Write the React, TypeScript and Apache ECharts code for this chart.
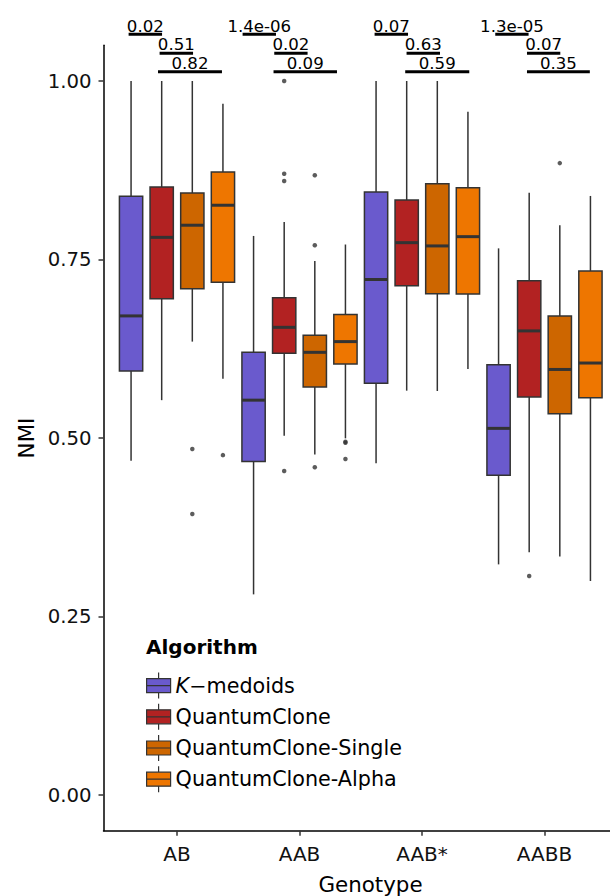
import React, { useEffect, useRef } from 'react';
import * as echarts from 'echarts';

const FONT = '"DejaVu Sans", Verdana, sans-serif';

const genotypes = ['AB', 'AAB', 'AAB*', 'AABB'];
const algorithms = ['K\u2212medoids', 'QuantumClone', 'QuantumClone-Single', 'QuantumClone-Alpha'];
const algorithmColors = ['#6A5ACD', '#B22222', '#CD6600', '#EE7600'];
const dodgeOffsets = [-0.375, -0.125, 0.125, 0.375];
const boxWidth = 0.19;

// [lower whisker, Q1, median, Q3, upper whisker], one row per genotype
const kmedoidsStats = [
  [0.468, 0.594, 0.671, 0.8385, 1.0],
  [0.281, 0.467, 0.553, 0.62, 0.783],
  [0.4645, 0.5766, 0.722, 0.8445, 1.0],
  [0.323, 0.448, 0.5135, 0.6027, 0.7656],
];
const quantumCloneStats = [
  [0.553, 0.695, 0.781, 0.8515, 1.0],
  [0.503, 0.6186, 0.655, 0.6966, 0.8025],
  [0.5663, 0.7134, 0.7736, 0.8333, 1.0],
  [0.34, 0.5574, 0.65, 0.7204, 0.8436],
];
const singleStats = [
  [0.635, 0.709, 0.798, 0.843, 1.0],
  [0.477, 0.5714, 0.62, 0.644, 0.748],
  [0.5658, 0.702, 0.769, 0.856, 1.0],
  [0.334, 0.534, 0.596, 0.671, 0.798],
];
const alphaStats = [
  [0.583, 0.718, 0.826, 0.8725, 0.968],
  [0.4995, 0.6036, 0.635, 0.673, 0.771],
  [0.5966, 0.7017, 0.782, 0.8506, 0.957],
  [0.2997, 0.5565, 0.605, 0.734, 0.839],
];

// outliers, one list per genotype
const kmedoidsOutliers = [[], [], [], []];
const quantumCloneOutliers = [[], [1.0, 0.87, 0.86, 0.4538], [], [0.3067]];
const singleOutliers = [[0.4846, 0.3935], [0.868, 0.77, 0.459], [], [0.885]];
const alphaOutliers = [[0.476], [0.4948, 0.4934, 0.4706], [], []];

const allStats = [kmedoidsStats, quantumCloneStats, singleStats, alphaStats];
const allOutliers = [kmedoidsOutliers, quantumCloneOutliers, singleOutliers, alphaOutliers];

const yTicks = [0, 0.25, 0.5, 0.75, 1];

// significance brackets (x in axis units: genotype k is centred at k)
const bracketLabels = ['0.02', '0.51', '0.82', '1.4e-06', '0.02', '0.09', '0.07', '0.63', '0.59', '1.3e-05', '0.07', '0.35'];
const bracketXmin = [0.605, 0.858, 0.845, 1.5355, 1.794, 1.788, 2.613, 2.874, 2.863, 3.598, 3.857, 3.857];
const bracketXmax = [0.878, 1.131, 1.367, 1.808, 2.066, 2.306, 2.886, 3.147, 3.386, 3.87, 4.129, 4.37];
const bracketLevel = [1.0654, 1.0388, 1.013, 1.0654, 1.0388, 1.013, 1.0654, 1.0388, 1.013, 1.0654, 1.0388, 1.013];

const LEGEND_ICON = 'path://M0,6L24,6L24,20L0,20Z M0,13L24,13 M12,0L12,6 M12,20L12,26';

export default function App() {
  const ref = useRef<HTMLDivElement>(null);

  useEffect(() => {
    if (!ref.current) return;
    const chart = echarts.init(ref.current, undefined, { renderer: 'svg' });

    const boxSeries = algorithms.map((name, ai) => ({
      type: 'custom',
      name,
      itemStyle: { color: algorithmColors[ai], borderColor: '#333333', borderWidth: 1.5 },
      encode: { x: 0, y: [1, 2, 3, 4, 5] },
      data: allStats[ai].map((s, gi) => [gi, ...s]),
      z: 2,
      renderItem: (params: any, api: any) => {
        const gi = api.value(0);
        const xc = gi + 1 + dodgeOffsets[ai];
        const pLow = api.coord([xc, api.value(1)]);
        const yQ1 = api.coord([xc, api.value(2)])[1];
        const yMed = api.coord([xc, api.value(3)])[1];
        const yQ3 = api.coord([xc, api.value(4)])[1];
        const yHigh = api.coord([xc, api.value(5)])[1];
        const x = pLow[0];
        const hw = api.size([boxWidth, 0])[0] / 2;
        const lineStyle = { stroke: '#333333', lineWidth: 1.5 };
        return {
          type: 'group',
          children: [
            { type: 'line', shape: { x1: x, y1: yQ3, x2: x, y2: yHigh }, style: lineStyle },
            { type: 'line', shape: { x1: x, y1: yQ1, x2: x, y2: pLow[1] }, style: lineStyle },
            {
              type: 'rect',
              shape: { x: x - hw, y: yQ3, width: hw * 2, height: yQ1 - yQ3 },
              style: { fill: algorithmColors[ai], stroke: '#333333', lineWidth: 1.5 },
            },
            { type: 'line', shape: { x1: x - hw, y1: yMed, x2: x + hw, y2: yMed }, style: { stroke: '#333333', lineWidth: 3 } },
          ],
        };
      },
    }));

    const outlierSeries = algorithms.map((name, ai) => ({
      type: 'scatter',
      name: name + ' outliers',
      symbol: 'circle',
      symbolSize: 4.5,
      silent: true,
      z: 3,
      itemStyle: { color: '#333333' },
      data: allOutliers[ai].flatMap((vals, gi) => vals.map((v) => [gi + 1 + dodgeOffsets[ai], v])),
    }));

    const bracketSeries = {
      type: 'custom',
      name: 'p-values',
      silent: true,
      clip: false,
      z: 4,
      encode: { x: [0, 1], y: 2 },
      data: bracketXmin.map((x, i) => [x, bracketXmax[i], bracketLevel[i]]),
      renderItem: (params: any, api: any) => {
        const p1 = api.coord([api.value(0), api.value(2)]);
        const p2 = api.coord([api.value(1), api.value(2)]);
        return {
          type: 'group',
          children: [
            { type: 'line', shape: { x1: p1[0], y1: p1[1], x2: p2[0], y2: p2[1] }, style: { stroke: '#000', lineWidth: 3 } },
            {
              type: 'text',
              x: (p1[0] + p2[0]) / 2,
              y: p1[1] - 8.3,
              style: {
                text: bracketLabels[params.dataIndex],
                align: 'center',
                verticalAlign: 'middle',
                fontSize: 16.6,
                fontFamily: FONT,
                fill: '#000',
              },
            },
          ],
        };
      },
    };

    const xTickValues = genotypes.map((_, i) => i + 1);

    chart.setOption({
      animation: false,
      backgroundColor: '#ffffff',
      grid: { left: 103.5, top: 45.3, width: 514.5, height: 785.4, outerBoundsMode: 'none', containLabel: false },
      title: {
        text: 'Algorithm',
        left: 146,
        top: 637,
        padding: 0,
        textStyle: { fontSize: 20, fontWeight: 'bold', fontFamily: FONT, color: '#000' },
      },
      legend: {
        data: algorithms,
        orient: 'vertical',
        left: 146,
        top: 672,
        padding: 0,
        itemWidth: 24,
        itemHeight: 26,
        itemGap: 4,
        icon: LEGEND_ICON,
        selectedMode: false,
        itemStyle: { borderColor: '#333333', borderWidth: 1.2 },
        formatter: (name: string) => (name.startsWith('K') ? '{i|K}{n|\u2212medoids}' : '{n|' + name + '}'),
        textStyle: {
          fontSize: 20.7,
          fontFamily: FONT,
          color: '#000',
          rich: {
            i: { fontSize: 20.7, fontFamily: FONT, fontStyle: 'italic', color: '#000', lineHeight: 22 },
            n: { fontSize: 20.7, fontFamily: FONT, color: '#000', lineHeight: 22 },
          },
        },
      },
      xAxis: {
        type: 'value',
        min: 0.4,
        max: 4.6,
        name: 'Genotype',
        nameLocation: 'middle',
        nameGap: 43,
        nameTextStyle: { fontSize: 21.4, fontFamily: FONT, color: '#000', padding: [0, 0, 0, 19.5] },
        splitLine: { show: false },
        axisLine: { show: true, onZero: false, lineStyle: { color: '#000', width: 1.5 } },
        axisTick: { show: true, length: 5, customValues: xTickValues, lineStyle: { color: '#333', width: 1.5 } },
        axisLabel: {
          customValues: xTickValues,
          formatter: (v: number) => genotypes[Math.round(v) - 1] ?? '',
          margin: 13.5,
          fontSize: 20,
          fontFamily: FONT,
          color: '#111',
        },
      },
      yAxis: {
        type: 'value',
        min: -0.05,
        max: 1.05,
        name: 'NMI',
        nameLocation: 'middle',
        nameGap: 67,
        nameTextStyle: { fontSize: 21.4, fontFamily: FONT, color: '#000' },
        splitLine: { show: false },
        axisLine: { show: true, onZero: false, lineStyle: { color: '#000', width: 1.5 } },
        axisTick: { show: true, length: 5, customValues: yTicks, lineStyle: { color: '#333', width: 1.5 } },
        axisLabel: {
          customValues: yTicks,
          formatter: (v: number) => v.toFixed(2),
          margin: 12,
          fontSize: 19.7,
          fontFamily: FONT,
          color: '#111',
        },
      },
      series: [...boxSeries, ...outlierSeries, bracketSeries],
    });

    return () => chart.dispose();
  }, []);

  return (
    <div
      ref={ref}
      style={{ position: 'fixed', left: 0, top: 0, width: 610, height: 896, background: '#fff' }}
    />
  );
}
